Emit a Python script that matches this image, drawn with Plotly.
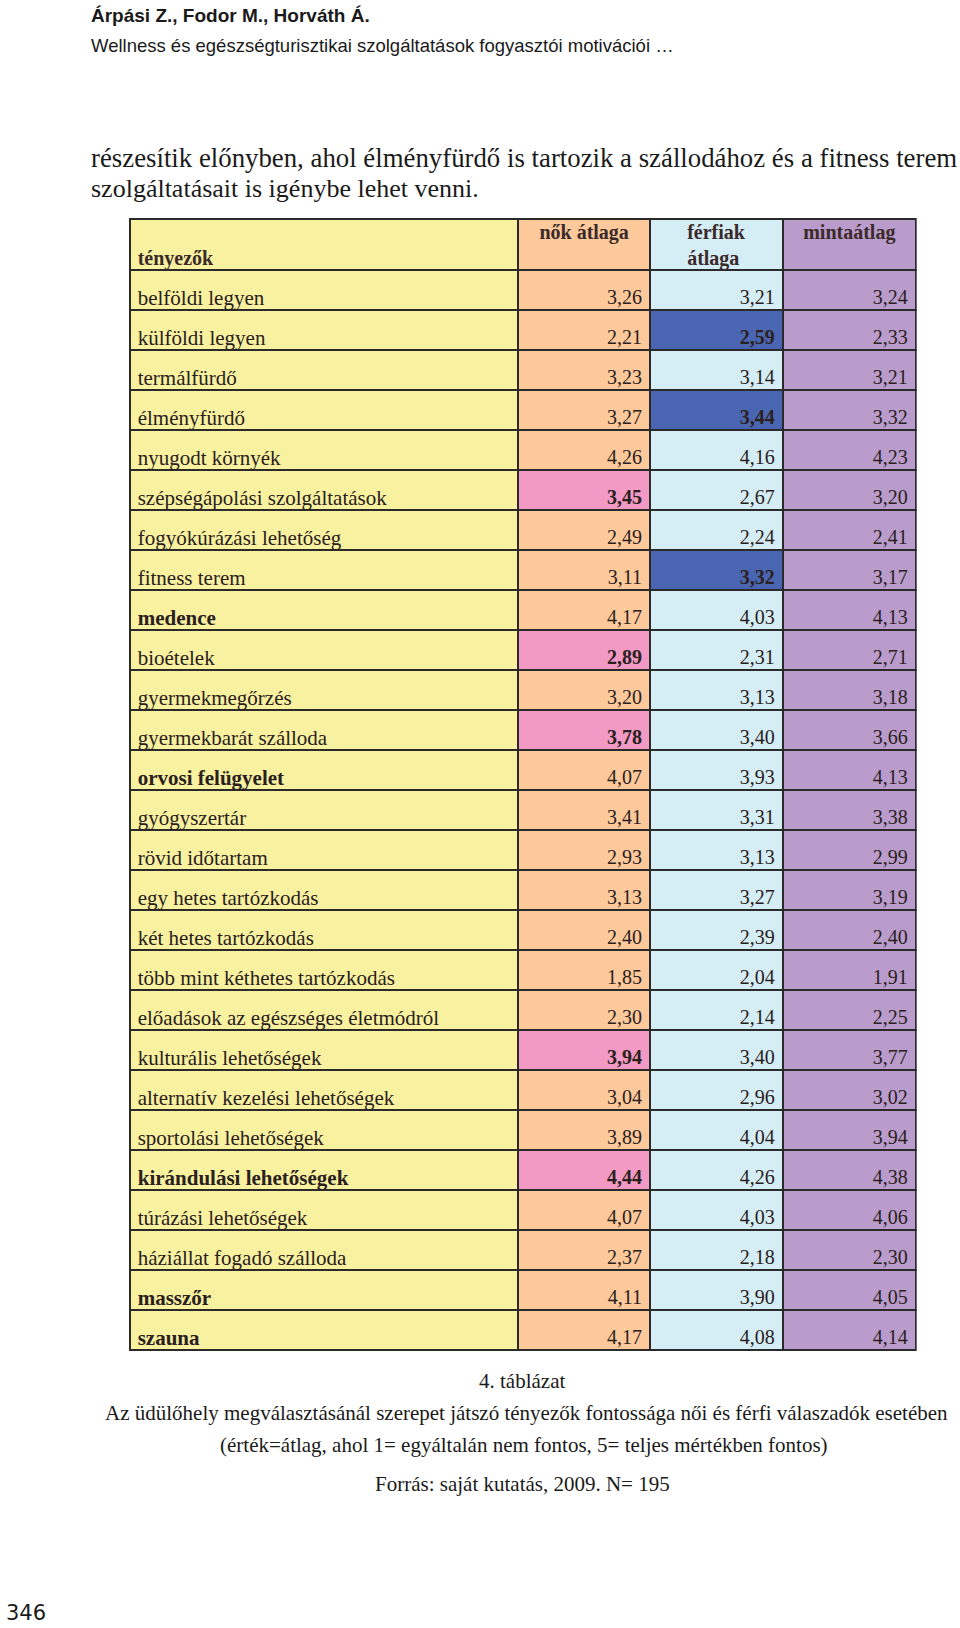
import plotly.graph_objects as go

# tényezők and the three averages
factors = [
    "belföldi legyen", "külföldi legyen", "termálfürdő", "élményfürdő",
    "nyugodt környék", "szépségápolási szolgáltatások", "fogyókúrázási lehetőség",
    "fitness terem", "medence", "bioételek", "gyermekmegőrzés",
    "gyermekbarát szálloda", "orvosi felügyelet", "gyógyszertár",
    "rövid időtartam", "egy hetes tartózkodás", "két hetes tartózkodás",
    "több mint kéthetes tartózkodás", "előadások az egészséges életmódról",
    "kulturális lehetőségek", "alternatív kezelési lehetőségek",
    "sportolási lehetőségek", "kirándulási lehetőségek", "túrázási lehetőségek",
    "háziállat fogadó szálloda", "masszőr", "szauna",
]
nok = [3.26, 2.21, 3.23, 3.27, 4.26, 3.45, 2.49, 3.11, 4.17, 2.89, 3.20, 3.78, 4.07,
       3.41, 2.93, 3.13, 2.40, 1.85, 2.30, 3.94, 3.04, 3.89, 4.44, 4.07, 2.37, 4.11, 4.17]
ferfiak = [3.21, 2.59, 3.14, 3.44, 4.16, 2.67, 2.24, 3.32, 4.03, 2.31, 3.13, 3.40, 3.93,
           3.31, 3.13, 3.27, 2.39, 2.04, 2.14, 3.40, 2.96, 4.04, 4.26, 4.03, 2.18, 3.90, 4.08]
minta = [3.24, 2.33, 3.21, 3.32, 4.23, 3.20, 2.41, 3.17, 4.13, 2.71, 3.18, 3.66, 4.13,
         3.38, 2.99, 3.19, 2.40, 1.91, 2.25, 3.77, 3.02, 3.94, 4.38, 4.06, 2.30, 4.05, 4.14]

bold_factors = ["medence", "orvosi felügyelet", "kirándulási lehetőségek", "masszőr", "szauna"]
nok_high = ["szépségápolási szolgáltatások", "bioételek", "gyermekbarát szálloda",
            "kulturális lehetőségek", "kirándulási lehetőségek"]
ferfi_high = ["külföldi legyen", "élményfürdő", "fitness terem"]

headers = ["\u00a0<br>tényezők", "nők átlaga", "férfiak<br>átlaga", "mintaátlag"]

YELLOW = "#f8f2a0"
ORANGE = "#fdc99b"
LBLUE = "#d5edf5"
PURPLE = "#b99ccb"
DBLUE = "#4a66b2"
PINK = "#f299c4"
NONE = "rgba(0,0,0,0)"


def fmt(v):
    return f"{v:.2f}".replace(".", ",")


def tag(s, bold):
    # every cell goes through the same rich-text path so baselines line up
    return f"<b>{s}</b>" if bold else f"<span>{s}</span>"


col0 = [tag(f, f in bold_factors) for f in factors]
col1 = [tag(fmt(v), f in nok_high) for f, v in zip(factors, nok)]
col2 = [tag(fmt(v), f in ferfi_high) for f, v in zip(factors, ferfiak)]
col3 = [tag(fmt(v), False) for v in minta]

fill1 = [PINK if f in nok_high else ORANGE for f in factors]
fill2 = [DBLUE if f in ferfi_high else LBLUE for f in factors]

W, H = 960, 1628


def px(x):
    return x / W


def py(y):
    return 1 - y / H


left, right = 129.7, 916.4
top, bottom = 219, 1370
colw = [389, 132, 133, 133]
n = len(factors)

# grid: fills and borders
fig = go.Figure(go.Table(
    domain=dict(x=[px(left), px(right)], y=[py(bottom), py(top)]),
    columnwidth=colw,
    header=dict(
        values=["", "", "", ""],
        fill_color=[YELLOW, ORANGE, LBLUE, PURPLE],
        line=dict(color="#2a2a2a", width=2),
        height=51,
    ),
    cells=dict(
        values=[[""] * n] * 4,
        fill_color=[[YELLOW] * n, fill1, fill2, [PURPLE] * n],
        line=dict(color="#2a2a2a", width=2),
        height=40,
    ),
))

# text layer, nudged so the values sit low in their cells
ttop = top - 5.8
fig.add_trace(go.Table(
    domain=dict(x=[px(left), px(right)], y=[py(bottom), py(ttop)]),
    columnwidth=colw,
    header=dict(
        values=[f"<b>{h}</b>" for h in headers],
        fill_color=NONE,
        align=["left", "center", "center", "center"],
        font=dict(family="Liberation Serif", size=20, color="#3a2a2a"),
        line=dict(color=NONE, width=0),
        height=59.2,
    ),
    cells=dict(
        values=[col0, col1, col2, col3],
        fill_color=NONE,
        align=["left", "right", "right", "right"],
        font=dict(family="Liberation Serif", size=[21, 20, 20, 20], color="#2a2020"),
        line=dict(color=NONE, width=0),
        height=40,
    ),
))

ann = [
    dict(text="<b>Árpási Z., Fodor M., Horváth Á.</b>", x=89, y=16, size=19,
         family="Liberation Sans Narrow, Liberation Sans", anchor="left"),
    dict(text="Wellness és egészségturisztikai szolgáltatások fogyasztói motivációi …", x=89, y=45,
         size=18.5, family="Liberation Sans Narrow, Liberation Sans", anchor="left"),
    dict(text="részesítik előnyben, ahol élményfürdő is tartozik a szállodához és a fitness terem",
         x=89, y=158, size=26.8, family="Liberation Serif", anchor="left"),
    dict(text="szolgáltatásait is igénybe lehet venni.", x=89, y=189, size=26,
         family="Liberation Serif", anchor="left"),
    dict(text="4. táblázat", x=522, y=1381, size=21, family="Liberation Serif", anchor="center"),
    dict(text="Az üdülőhely megválasztásánál szerepet játszó tényezők fontossága női és férfi válaszadók esetében",
         x=526, y=1413, size=21, family="Liberation Serif", anchor="center"),
    dict(text="(érték=átlag, ahol 1= egyáltalán nem fontos, 5= teljes mértékben fontos)",
         x=524, y=1445, size=21, family="Liberation Serif", anchor="center"),
    dict(text="Forrás: saját kutatás, 2009. N= 195", x=522, y=1484, size=21,
         family="Liberation Serif", anchor="center"),
    dict(text="346", x=4, y=1613, size=21, family="DejaVu Sans", anchor="left"),
]
for a in ann:
    fig.add_annotation(
        text=a["text"], x=px(a["x"]), y=py(a["y"]), xref="paper", yref="paper",
        xanchor=a["anchor"], yanchor="middle", showarrow=False,
        font=dict(family=a["family"], size=a["size"], color="#1a1a1a"),
    )

fig.update_layout(width=W, height=H, margin=dict(l=0, r=0, t=0, b=0),
                  paper_bgcolor="white", plot_bgcolor="white")
fig.write_html("out.html", config={"displayModeBar": False},
               post_script="document.body.style.margin = '0';")
